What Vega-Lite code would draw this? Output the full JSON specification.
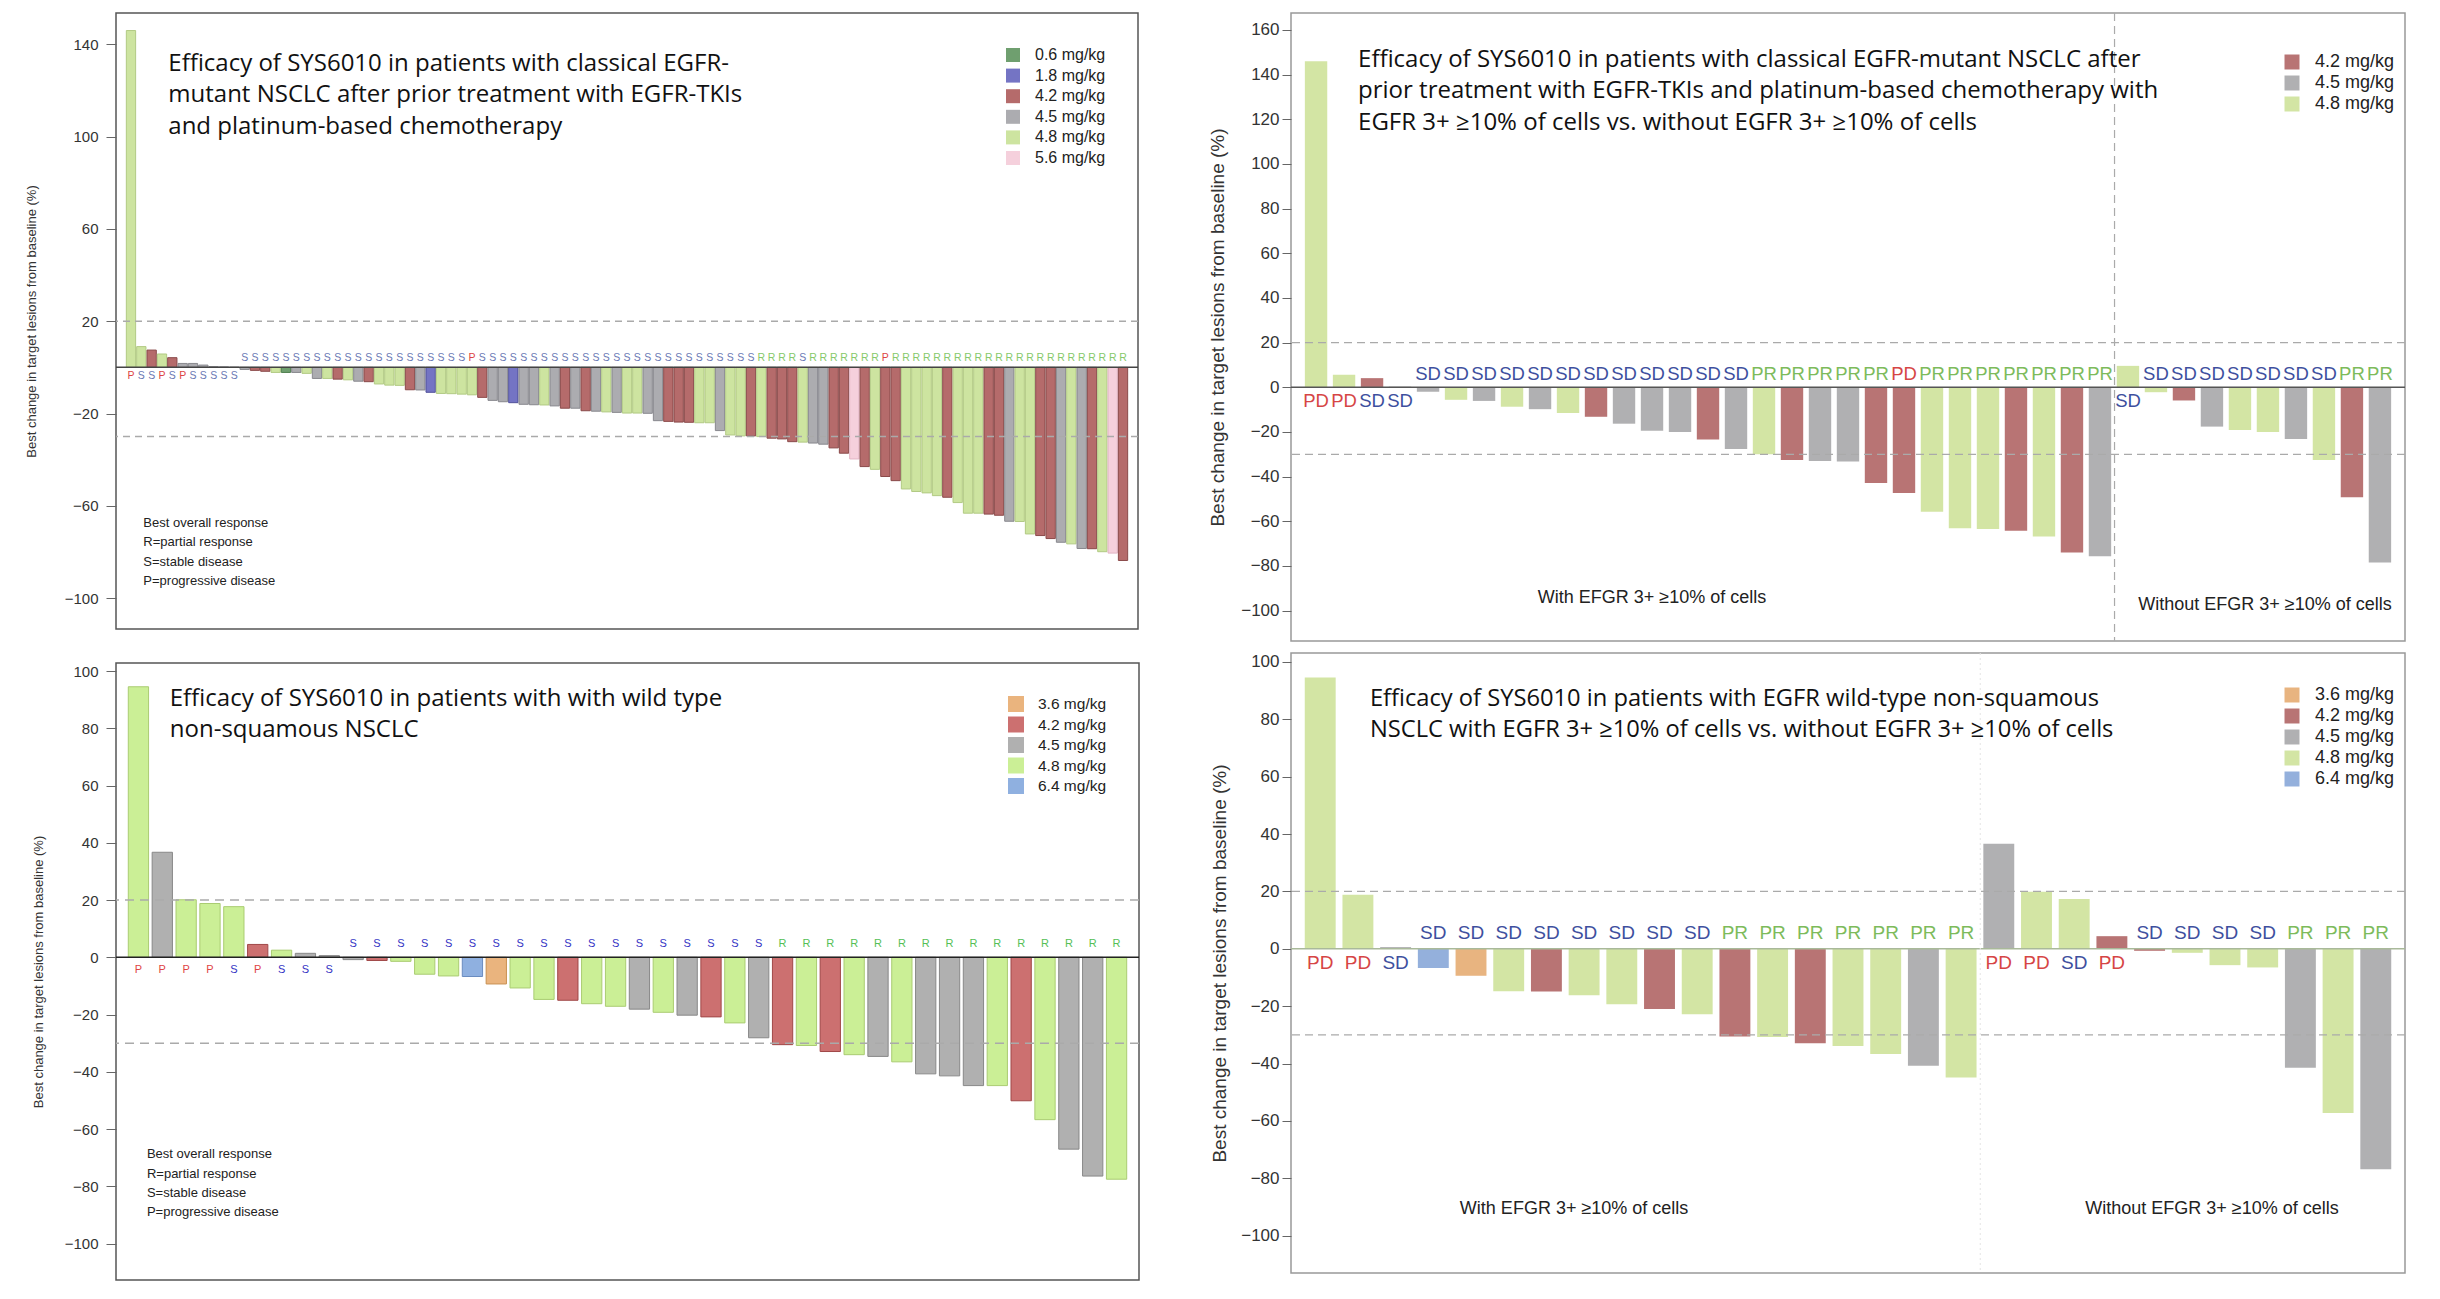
{
  "$schema": "https://vega.github.io/schema/vega-lite/v6.json",
  "background": "white",
  "padding": {"left": 24, "top": 11, "right": 5, "bottom": 5},
  "config": {"font": "Liberation Sans", "view": {"stroke": "#888"}},
  "datasets": {
    "tl": [
      {"i":1,"v":146,"dose":"4.8 mg/kg","resp":"P"},{"i":2,"v":9,"dose":"4.8 mg/kg","resp":"S"},{"i":3,"v":7.5,"dose":"4.2 mg/kg","resp":"S"},{"i":4,"v":5.8,"dose":"4.8 mg/kg","resp":"P"},
      {"i":5,"v":4.2,"dose":"4.2 mg/kg","resp":"S"},{"i":6,"v":1.7,"dose":"4.5 mg/kg","resp":"P"},{"i":7,"v":1.7,"dose":"4.5 mg/kg","resp":"S"},{"i":8,"v":1.0,"dose":"4.5 mg/kg","resp":"S"},
      {"i":9,"v":0.3,"dose":"4.5 mg/kg","resp":"S"},{"i":10,"v":0.2,"dose":"4.5 mg/kg","resp":"S"},{"i":11,"v":0.1,"dose":"4.5 mg/kg","resp":"S"},{"i":12,"v":-0.9,"dose":"4.5 mg/kg","resp":"S"},
      {"i":13,"v":-1.3,"dose":"4.2 mg/kg","resp":"S"},{"i":14,"v":-1.7,"dose":"4.2 mg/kg","resp":"S"},{"i":15,"v":-2.2,"dose":"4.8 mg/kg","resp":"S"},{"i":16,"v":-2.2,"dose":"0.6 mg/kg","resp":"S"},
      {"i":17,"v":-2.2,"dose":"4.5 mg/kg","resp":"S"},{"i":18,"v":-2.6,"dose":"4.8 mg/kg","resp":"S"},{"i":19,"v":-4.8,"dose":"4.5 mg/kg","resp":"S"},{"i":20,"v":-4.8,"dose":"4.8 mg/kg","resp":"S"},
      {"i":21,"v":-5.1,"dose":"4.2 mg/kg","resp":"S"},{"i":22,"v":-5.4,"dose":"4.8 mg/kg","resp":"S"},{"i":23,"v":-6.0,"dose":"4.5 mg/kg","resp":"S"},{"i":24,"v":-6.2,"dose":"4.2 mg/kg","resp":"S"},
      {"i":25,"v":-7.2,"dose":"4.8 mg/kg","resp":"S"},{"i":26,"v":-7.7,"dose":"4.8 mg/kg","resp":"S"},{"i":27,"v":-7.8,"dose":"4.8 mg/kg","resp":"S"},{"i":28,"v":-9.7,"dose":"4.2 mg/kg","resp":"S"},
      {"i":29,"v":-9.8,"dose":"4.5 mg/kg","resp":"S"},{"i":30,"v":-10.8,"dose":"1.8 mg/kg","resp":"S"},{"i":31,"v":-11.3,"dose":"4.8 mg/kg","resp":"S"},{"i":32,"v":-11.4,"dose":"4.8 mg/kg","resp":"S"},
      {"i":33,"v":-11.6,"dose":"4.8 mg/kg","resp":"S"},{"i":34,"v":-11.9,"dose":"4.8 mg/kg","resp":"P"},{"i":35,"v":-13.0,"dose":"4.2 mg/kg","resp":"S"},{"i":36,"v":-14.3,"dose":"4.5 mg/kg","resp":"S"},
      {"i":37,"v":-14.9,"dose":"4.5 mg/kg","resp":"S"},{"i":38,"v":-15.3,"dose":"1.8 mg/kg","resp":"S"},{"i":39,"v":-16.0,"dose":"4.5 mg/kg","resp":"S"},{"i":40,"v":-16.2,"dose":"4.5 mg/kg","resp":"S"},
      {"i":41,"v":-16.3,"dose":"4.8 mg/kg","resp":"S"},{"i":42,"v":-16.7,"dose":"4.5 mg/kg","resp":"S"},{"i":43,"v":-17.7,"dose":"4.2 mg/kg","resp":"S"},{"i":44,"v":-17.7,"dose":"4.5 mg/kg","resp":"S"},
      {"i":45,"v":-18.8,"dose":"4.2 mg/kg","resp":"S"},{"i":46,"v":-19.0,"dose":"4.5 mg/kg","resp":"S"},{"i":47,"v":-19.3,"dose":"4.8 mg/kg","resp":"S"},{"i":48,"v":-19.5,"dose":"4.5 mg/kg","resp":"S"},
      {"i":49,"v":-19.8,"dose":"4.8 mg/kg","resp":"S"},{"i":50,"v":-19.8,"dose":"4.8 mg/kg","resp":"S"},{"i":51,"v":-19.9,"dose":"4.5 mg/kg","resp":"S"},{"i":52,"v":-23.1,"dose":"4.5 mg/kg","resp":"S"},
      {"i":53,"v":-23.4,"dose":"4.2 mg/kg","resp":"S"},{"i":54,"v":-23.7,"dose":"4.2 mg/kg","resp":"S"},{"i":55,"v":-23.8,"dose":"4.2 mg/kg","resp":"S"},{"i":56,"v":-24.0,"dose":"4.8 mg/kg","resp":"S"},
      {"i":57,"v":-24.0,"dose":"4.8 mg/kg","resp":"S"},{"i":58,"v":-27.4,"dose":"4.5 mg/kg","resp":"S"},{"i":59,"v":-29.3,"dose":"4.8 mg/kg","resp":"S"},{"i":60,"v":-29.7,"dose":"4.8 mg/kg","resp":"S"},
      {"i":61,"v":-29.7,"dose":"4.2 mg/kg","resp":"S"},{"i":62,"v":-30.0,"dose":"4.8 mg/kg","resp":"R"},{"i":63,"v":-30.7,"dose":"4.2 mg/kg","resp":"R"},{"i":64,"v":-31.0,"dose":"4.2 mg/kg","resp":"R"},
      {"i":65,"v":-32.2,"dose":"4.2 mg/kg","resp":"R"},{"i":66,"v":-32.4,"dose":"4.8 mg/kg","resp":"S"},{"i":67,"v":-32.8,"dose":"4.5 mg/kg","resp":"R"},{"i":68,"v":-33.3,"dose":"4.5 mg/kg","resp":"R"},
      {"i":69,"v":-34.9,"dose":"4.2 mg/kg","resp":"R"},{"i":70,"v":-37.2,"dose":"4.2 mg/kg","resp":"R"},{"i":71,"v":-39.7,"dose":"5.6 mg/kg","resp":"R"},{"i":72,"v":-43.0,"dose":"4.2 mg/kg","resp":"R"},
      {"i":73,"v":-44.2,"dose":"4.8 mg/kg","resp":"R"},{"i":74,"v":-47.3,"dose":"4.2 mg/kg","resp":"P"},{"i":75,"v":-49.1,"dose":"4.2 mg/kg","resp":"R"},{"i":76,"v":-52.7,"dose":"4.8 mg/kg","resp":"R"},
      {"i":77,"v":-53.8,"dose":"4.8 mg/kg","resp":"R"},{"i":78,"v":-54.4,"dose":"4.8 mg/kg","resp":"R"},{"i":79,"v":-55.6,"dose":"4.8 mg/kg","resp":"R"},{"i":80,"v":-56.3,"dose":"4.2 mg/kg","resp":"R"},
      {"i":81,"v":-58.6,"dose":"4.8 mg/kg","resp":"R"},{"i":82,"v":-63.2,"dose":"4.8 mg/kg","resp":"R"},{"i":83,"v":-63.2,"dose":"4.8 mg/kg","resp":"R"},{"i":84,"v":-63.6,"dose":"4.2 mg/kg","resp":"R"},
      {"i":85,"v":-64.1,"dose":"4.2 mg/kg","resp":"R"},{"i":86,"v":-66.7,"dose":"4.5 mg/kg","resp":"R"},{"i":87,"v":-66.8,"dose":"4.8 mg/kg","resp":"R"},{"i":88,"v":-72.2,"dose":"4.8 mg/kg","resp":"R"},
      {"i":89,"v":-72.9,"dose":"4.2 mg/kg","resp":"R"},{"i":90,"v":-74.2,"dose":"4.2 mg/kg","resp":"R"},{"i":91,"v":-75.8,"dose":"4.5 mg/kg","resp":"R"},{"i":92,"v":-76.5,"dose":"4.8 mg/kg","resp":"R"},
      {"i":93,"v":-78.5,"dose":"4.5 mg/kg","resp":"R"},{"i":94,"v":-78.6,"dose":"4.2 mg/kg","resp":"R"},{"i":95,"v":-79.9,"dose":"4.8 mg/kg","resp":"R"},{"i":96,"v":-80.5,"dose":"5.6 mg/kg","resp":"R"},
      {"i":97,"v":-83.7,"dose":"4.2 mg/kg","resp":"R"}
    ],
    "tr": [
      {"i":1,"v":146,"dose":"4.8 mg/kg","resp":"PD"},{"i":2,"v":5.6,"dose":"4.8 mg/kg","resp":"PD"},{"i":3,"v":4.1,"dose":"4.2 mg/kg","resp":"SD"},{"i":4,"v":0.3,"dose":"4.5 mg/kg","resp":"SD"},
      {"i":5,"v":-2.0,"dose":"4.5 mg/kg","resp":"SD"},{"i":6,"v":-5.6,"dose":"4.8 mg/kg","resp":"SD"},{"i":7,"v":-6.1,"dose":"4.5 mg/kg","resp":"SD"},{"i":8,"v":-8.7,"dose":"4.8 mg/kg","resp":"SD"},
      {"i":9,"v":-9.8,"dose":"4.5 mg/kg","resp":"SD"},{"i":10,"v":-11.5,"dose":"4.8 mg/kg","resp":"SD"},{"i":11,"v":-13.2,"dose":"4.2 mg/kg","resp":"SD"},{"i":12,"v":-16.3,"dose":"4.5 mg/kg","resp":"SD"},
      {"i":13,"v":-19.5,"dose":"4.5 mg/kg","resp":"SD"},{"i":14,"v":-20.0,"dose":"4.5 mg/kg","resp":"SD"},{"i":15,"v":-23.4,"dose":"4.2 mg/kg","resp":"SD"},{"i":16,"v":-27.6,"dose":"4.5 mg/kg","resp":"SD"},
      {"i":17,"v":-30.0,"dose":"4.8 mg/kg","resp":"PR"},{"i":18,"v":-32.5,"dose":"4.2 mg/kg","resp":"PR"},{"i":19,"v":-33.0,"dose":"4.5 mg/kg","resp":"PR"},{"i":20,"v":-33.2,"dose":"4.5 mg/kg","resp":"PR"},
      {"i":21,"v":-42.9,"dose":"4.2 mg/kg","resp":"PR"},{"i":22,"v":-47.3,"dose":"4.2 mg/kg","resp":"PD"},{"i":23,"v":-55.7,"dose":"4.8 mg/kg","resp":"PR"},{"i":24,"v":-63.1,"dose":"4.8 mg/kg","resp":"PR"},
      {"i":25,"v":-63.5,"dose":"4.8 mg/kg","resp":"PR"},{"i":26,"v":-64.2,"dose":"4.2 mg/kg","resp":"PR"},{"i":27,"v":-66.8,"dose":"4.8 mg/kg","resp":"PR"},{"i":28,"v":-74.0,"dose":"4.2 mg/kg","resp":"PR"},
      {"i":29,"v":-75.7,"dose":"4.5 mg/kg","resp":"PR"},{"i":30,"v":9.6,"dose":"4.8 mg/kg","resp":"SD"},{"i":31,"v":-2.2,"dose":"4.8 mg/kg","resp":"SD"},{"i":32,"v":-5.9,"dose":"4.2 mg/kg","resp":"SD"},
      {"i":33,"v":-17.6,"dose":"4.5 mg/kg","resp":"SD"},{"i":34,"v":-19.1,"dose":"4.8 mg/kg","resp":"SD"},{"i":35,"v":-20.0,"dose":"4.8 mg/kg","resp":"SD"},{"i":36,"v":-23.2,"dose":"4.5 mg/kg","resp":"SD"},
      {"i":37,"v":-32.5,"dose":"4.8 mg/kg","resp":"SD"},{"i":38,"v":-49.2,"dose":"4.2 mg/kg","resp":"PR"},{"i":39,"v":-78.5,"dose":"4.5 mg/kg","resp":"PR"}
    ],
    "bl": [
      {"i":1,"v":94.5,"dose":"4.8 mg/kg","resp":"P"},{"i":2,"v":36.7,"dose":"4.5 mg/kg","resp":"P"},{"i":3,"v":20.1,"dose":"4.8 mg/kg","resp":"P"},{"i":4,"v":18.8,"dose":"4.8 mg/kg","resp":"P"},
      {"i":5,"v":17.7,"dose":"4.8 mg/kg","resp":"S"},{"i":6,"v":4.5,"dose":"4.2 mg/kg","resp":"P"},{"i":7,"v":2.5,"dose":"4.8 mg/kg","resp":"S"},{"i":8,"v":1.4,"dose":"4.5 mg/kg","resp":"S"},
      {"i":9,"v":0.6,"dose":"4.5 mg/kg","resp":"S"},{"i":10,"v":-0.8,"dose":"4.5 mg/kg","resp":"S"},{"i":11,"v":-1.1,"dose":"4.2 mg/kg","resp":"S"},{"i":12,"v":-1.4,"dose":"4.8 mg/kg","resp":"S"},
      {"i":13,"v":-5.9,"dose":"4.8 mg/kg","resp":"S"},{"i":14,"v":-6.5,"dose":"4.8 mg/kg","resp":"S"},{"i":15,"v":-6.7,"dose":"6.4 mg/kg","resp":"S"},{"i":16,"v":-9.3,"dose":"3.6 mg/kg","resp":"S"},
      {"i":17,"v":-10.7,"dose":"4.8 mg/kg","resp":"S"},{"i":18,"v":-14.7,"dose":"4.8 mg/kg","resp":"S"},{"i":19,"v":-15.0,"dose":"4.2 mg/kg","resp":"S"},{"i":20,"v":-16.2,"dose":"4.8 mg/kg","resp":"S"},
      {"i":21,"v":-17.1,"dose":"4.8 mg/kg","resp":"S"},{"i":22,"v":-18.1,"dose":"4.5 mg/kg","resp":"S"},{"i":23,"v":-19.2,"dose":"4.8 mg/kg","resp":"S"},{"i":24,"v":-20.2,"dose":"4.5 mg/kg","resp":"S"},
      {"i":25,"v":-20.8,"dose":"4.2 mg/kg","resp":"S"},{"i":26,"v":-22.9,"dose":"4.8 mg/kg","resp":"S"},{"i":27,"v":-28.1,"dose":"4.5 mg/kg","resp":"S"},{"i":28,"v":-30.5,"dose":"4.2 mg/kg","resp":"R"},
      {"i":29,"v":-30.8,"dose":"4.8 mg/kg","resp":"R"},{"i":30,"v":-32.9,"dose":"4.2 mg/kg","resp":"R"},{"i":31,"v":-34.0,"dose":"4.8 mg/kg","resp":"R"},{"i":32,"v":-34.6,"dose":"4.5 mg/kg","resp":"R"},
      {"i":33,"v":-36.5,"dose":"4.8 mg/kg","resp":"R"},{"i":34,"v":-40.7,"dose":"4.5 mg/kg","resp":"R"},{"i":35,"v":-41.4,"dose":"4.5 mg/kg","resp":"R"},{"i":36,"v":-44.8,"dose":"4.5 mg/kg","resp":"R"},
      {"i":37,"v":-44.8,"dose":"4.8 mg/kg","resp":"R"},{"i":38,"v":-50.1,"dose":"4.2 mg/kg","resp":"R"},{"i":39,"v":-56.7,"dose":"4.8 mg/kg","resp":"R"},{"i":40,"v":-67.0,"dose":"4.5 mg/kg","resp":"R"},
      {"i":41,"v":-76.4,"dose":"4.5 mg/kg","resp":"R"},{"i":42,"v":-77.5,"dose":"4.8 mg/kg","resp":"R"}
    ],
    "br": [
      {"i":1,"v":94.6,"dose":"4.8 mg/kg","resp":"PD"},{"i":2,"v":18.8,"dose":"4.8 mg/kg","resp":"PD"},{"i":3,"v":0.6,"dose":"4.5 mg/kg","resp":"SD"},{"i":4,"v":-6.7,"dose":"6.4 mg/kg","resp":"SD"},
      {"i":5,"v":-9.4,"dose":"3.6 mg/kg","resp":"SD"},{"i":6,"v":-14.8,"dose":"4.8 mg/kg","resp":"SD"},{"i":7,"v":-14.9,"dose":"4.2 mg/kg","resp":"SD"},{"i":8,"v":-16.2,"dose":"4.8 mg/kg","resp":"SD"},
      {"i":9,"v":-19.3,"dose":"4.8 mg/kg","resp":"SD"},{"i":10,"v":-21.0,"dose":"4.2 mg/kg","resp":"SD"},{"i":11,"v":-22.8,"dose":"4.8 mg/kg","resp":"SD"},{"i":12,"v":-30.6,"dose":"4.2 mg/kg","resp":"PR"},
      {"i":13,"v":-30.7,"dose":"4.8 mg/kg","resp":"PR"},{"i":14,"v":-32.9,"dose":"4.2 mg/kg","resp":"PR"},{"i":15,"v":-33.9,"dose":"4.8 mg/kg","resp":"PR"},{"i":16,"v":-36.7,"dose":"4.8 mg/kg","resp":"PR"},
      {"i":17,"v":-40.8,"dose":"4.5 mg/kg","resp":"PR"},{"i":18,"v":-44.9,"dose":"4.8 mg/kg","resp":"PR"},{"i":19,"v":36.6,"dose":"4.5 mg/kg","resp":"PD"},{"i":20,"v":19.9,"dose":"4.8 mg/kg","resp":"PD"},
      {"i":21,"v":17.4,"dose":"4.8 mg/kg","resp":"SD"},{"i":22,"v":4.4,"dose":"4.2 mg/kg","resp":"PD"},{"i":23,"v":-0.7,"dose":"4.2 mg/kg","resp":"SD"},{"i":24,"v":-1.4,"dose":"4.8 mg/kg","resp":"SD"},
      {"i":25,"v":-5.7,"dose":"4.8 mg/kg","resp":"SD"},{"i":26,"v":-6.5,"dose":"4.8 mg/kg","resp":"SD"},{"i":27,"v":-41.5,"dose":"4.5 mg/kg","resp":"PR"},{"i":28,"v":-57.2,"dose":"4.8 mg/kg","resp":"PR"},
      {"i":29,"v":-76.8,"dose":"4.5 mg/kg","resp":"PR"}
    ]
  },
  "spacing": 66,
  "resolve": {"scale": {"x": "independent", "y": "independent", "fill": "independent", "stroke": "independent", "color": "independent"}, "legend": {"fill": "independent"}},
  "hconcat": [
    {
      "bounds": "flush",
      "spacing": 34,
      "resolve": {"scale": {"x": "independent", "y": "independent", "fill": "independent", "stroke": "independent", "color": "independent"}, "legend": {"fill": "independent"}},
      "vconcat": [
        {
          "width": 1022, "height": 616,
          "view": {"stroke": "#555", "strokeWidth": 1.5},
          "data": {"name": "tl"},
          "layer": [
            {
              "mark": {"type": "bar", "strokeWidth": 1},
              "encoding": {
                "x": {"field": "i", "type": "ordinal", "axis": null, "scale": {"paddingInner": 0.1, "paddingOuter": 1.115}},
                "y": {"field": "v", "type": "quantitative", "scale": {"domain": [-113.4, 153.6], "nice": false, "zero": false},
                  "axis": {"values": [140, 100, 60, 20, -20, -60, -100], "title": "Best  change in target lesions from baseline (%)", "titleFontSize": 13, "titleFontWeight": "normal", "titleColor": "#333", "titlePadding": 26, "labelFontSize": 15, "labelColor": "#333", "labelPadding": 8, "tickSize": 10, "tickColor": "#666", "domain": false, "grid": false}},
                "y2": {"datum": 0},
                "fill": {"field": "dose", "type": "nominal",
                  "scale": {"domain": ["0.6 mg/kg", "1.8 mg/kg", "4.2 mg/kg", "4.5 mg/kg", "4.8 mg/kg", "5.6 mg/kg"], "range": ["#6f9f6f", "#7474c4", "#b56b6b", "#acacb0", "#cde4a0", "#f5d0dc"]},
                  "legend": {"orient": "none", "legendX": 889, "legendY": 34, "title": null, "symbolType": "square", "symbolSize": 196, "symbolStrokeWidth": 0, "labelFontSize": 16, "labelColor": "#222", "rowPadding": 4.6, "labelOffset": 14, "padding": 0}},
                "stroke": {"field": "dose", "type": "nominal", "legend": null,
                  "scale": {"domain": ["0.6 mg/kg", "1.8 mg/kg", "4.2 mg/kg", "4.5 mg/kg", "4.8 mg/kg", "5.6 mg/kg"], "range": ["#4f7f4f", "#50509a", "#8a4a4a", "#88888e", "#b2ca84", "#e2b4c4"]}}
              }
            },
            {
              "data": {"values": [{"ref": 20}, {"ref": -30}]},
              "mark": {"type": "rule", "color": "#aaaaaa", "strokeDash": [7, 5], "strokeWidth": 1.5},
              "encoding": {"y": {"field": "ref", "type": "quantitative"}}
            },
            {
              "data": {"values": [{}]},
              "mark": {"type": "rule", "color": "#444", "strokeWidth": 1.5},
              "encoding": {"y": {"datum": 0, "type": "quantitative"}}
            },
            {
              "transform": [{"filter": "datum.v < 0"}],
              "mark": {"type": "text", "fontSize": 10.5, "dy": -9, "baseline": "middle"},
              "encoding": {
                "x": {"field": "i", "type": "ordinal", "axis": null},
                "y": {"datum": 0, "type": "quantitative"},
                "text": {"field": "resp"},
                "color": {"field": "resp", "type": "nominal", "legend": null, "scale": {"domain": ["P", "S", "R"], "range": ["#dd4444", "#6a78b4", "#86c96a"]}}
              }
            },
            {
              "transform": [{"filter": "datum.v >= 0"}],
              "mark": {"type": "text", "fontSize": 10.5, "dy": 9, "baseline": "middle"},
              "encoding": {
                "x": {"field": "i", "type": "ordinal", "axis": null},
                "y": {"datum": 0, "type": "quantitative"},
                "text": {"field": "resp"},
                "color": {"field": "resp", "type": "nominal", "legend": null, "scale": {"domain": ["P", "S", "R"], "range": ["#dd4444", "#6a78b4", "#86c96a"]}}
              }
            },
            {
              "data": {"values": [{}]},
              "mark": {"type": "text", "align": "left", "baseline": "middle", "font": "Open Sans", "fontSize": 24, "lineHeight": 31.4, "dx": -4, "color": "#111",
                "text": ["Efficacy of SYS6010 in patients with classical EGFR-", "mutant NSCLC after prior treatment with EGFR-TKIs", "and platinum-based chemotherapy"]},
              "encoding": {"x": {"datum": 5, "type": "ordinal", "axis": null}, "y": {"datum": 131.5, "type": "quantitative"}}
            },
            {
              "data": {"values": [{}]},
              "mark": {"type": "text", "align": "left", "baseline": "middle", "fontSize": 13, "lineHeight": 19.4, "dx": 2, "color": "#222",
                "text": ["Best overall response", "R=partial response", "S=stable disease", "P=progressive disease"]},
              "encoding": {"x": {"datum": 2, "type": "ordinal", "axis": null}, "y": {"datum": -67.4, "type": "quantitative"}}
            }
          ]
        },
        {
          "width": 1023, "height": 617,
          "view": {"stroke": "#555", "strokeWidth": 1.5},
          "data": {"name": "bl"},
          "layer": [
            {
              "mark": {"type": "bar", "strokeWidth": 1},
              "encoding": {
                "x": {"field": "i", "type": "ordinal", "axis": null, "scale": {"paddingInner": 0.15, "paddingOuter": 0.515}},
                "y": {"field": "v", "type": "quantitative", "scale": {"domain": [-112.7, 102.8], "nice": false, "zero": false},
                  "axis": {"values": [100, 80, 60, 40, 20, 0, -20, -40, -60, -80, -100], "title": "Best change in target lesions from baseline (%)", "titleFontSize": 13, "titleFontWeight": "normal", "titleColor": "#333", "titlePadding": 19, "labelFontSize": 15, "labelColor": "#333", "labelPadding": 8, "tickSize": 10, "tickColor": "#666", "domain": false, "grid": false}},
                "y2": {"datum": 0},
                "fill": {"field": "dose", "type": "nominal",
                  "scale": {"domain": ["3.6 mg/kg", "4.2 mg/kg", "4.5 mg/kg", "4.8 mg/kg", "6.4 mg/kg"], "range": ["#eab47e", "#cc7070", "#b0b0b0", "#cbef96", "#8fb0e0"]},
                  "legend": {"orient": "none", "legendX": 892, "legendY": 33, "title": null, "symbolType": "square", "symbolSize": 256, "symbolStrokeWidth": 0, "labelFontSize": 15.5, "labelColor": "#222", "rowPadding": 3.5, "labelOffset": 14, "padding": 0}},
                "stroke": {"field": "dose", "type": "nominal", "legend": null,
                  "scale": {"domain": ["3.6 mg/kg", "4.2 mg/kg", "4.5 mg/kg", "4.8 mg/kg", "6.4 mg/kg"], "range": ["#c89050", "#a04848", "#888888", "#aacc72", "#6a8cc0"]}}
              }
            },
            {
              "data": {"values": [{"ref": 20}, {"ref": -30}]},
              "mark": {"type": "rule", "color": "#aaaaaa", "strokeDash": [9, 6], "strokeWidth": 1.5},
              "encoding": {"y": {"field": "ref", "type": "quantitative"}}
            },
            {
              "data": {"values": [{}]},
              "mark": {"type": "rule", "color": "#222", "strokeWidth": 1.5},
              "encoding": {"y": {"datum": 0, "type": "quantitative"}}
            },
            {
              "transform": [{"filter": "datum.v < 0"}],
              "mark": {"type": "text", "fontSize": 11, "dy": -13, "baseline": "middle"},
              "encoding": {
                "x": {"field": "i", "type": "ordinal", "axis": null},
                "y": {"datum": 0, "type": "quantitative"},
                "text": {"field": "resp"},
                "color": {"field": "resp", "type": "nominal", "legend": null, "scale": {"domain": ["P", "S", "R"], "range": ["#e04444", "#3434c4", "#55c055"]}}
              }
            },
            {
              "transform": [{"filter": "datum.v >= 0"}],
              "mark": {"type": "text", "fontSize": 11, "dy": 13, "baseline": "middle"},
              "encoding": {
                "x": {"field": "i", "type": "ordinal", "axis": null},
                "y": {"datum": 0, "type": "quantitative"},
                "text": {"field": "resp"},
                "color": {"field": "resp", "type": "nominal", "legend": null, "scale": {"domain": ["P", "S", "R"], "range": ["#e04444", "#3434c4", "#55c055"]}}
              }
            },
            {
              "data": {"values": [{}]},
              "mark": {"type": "text", "align": "left", "baseline": "middle", "font": "Open Sans", "fontSize": 24, "lineHeight": 31.6, "dx": 7.5, "color": "#111",
                "text": ["Efficacy of SYS6010 in patients with with wild type", "non-squamous NSCLC"]},
              "encoding": {"x": {"datum": 2, "type": "ordinal", "axis": null}, "y": {"datum": 90.3, "type": "quantitative"}}
            },
            {
              "data": {"values": [{}]},
              "mark": {"type": "text", "align": "left", "baseline": "middle", "fontSize": 13, "lineHeight": 19.4, "dx": 8.5, "color": "#222",
                "text": ["Best overall response", "R=partial response", "S=stable disease", "P=progressive disease"]},
              "encoding": {"x": {"datum": 1, "type": "ordinal", "axis": null}, "y": {"datum": -68.8, "type": "quantitative"}}
            }
          ]
        }
      ]
    },
    {
      "bounds": "flush",
      "spacing": 12,
      "resolve": {"scale": {"x": "independent", "y": "independent", "fill": "independent", "stroke": "independent", "color": "independent"}, "legend": {"fill": "independent"}},
      "vconcat": [
        {
          "width": 1114, "height": 628,
          "view": {"stroke": "#999", "strokeWidth": 1.5},
          "data": {"name": "tr"},
          "layer": [
            {
              "mark": {"type": "bar", "strokeWidth": 0},
              "encoding": {
                "x": {"field": "i", "type": "ordinal", "axis": null, "scale": {"paddingInner": 0.2, "paddingOuter": 0.495}},
                "y": {"field": "v", "type": "quantitative", "scale": {"domain": [-113.6, 167.6], "nice": false, "zero": false},
                  "axis": {"values": [160, 140, 120, 100, 80, 60, 40, 20, 0, -20, -40, -60, -80, -100], "title": "Best change in target lesions from baseline (%)", "titleFontSize": 19, "titleFontWeight": "normal", "titleColor": "#333", "titlePadding": 13, "labelFontSize": 17, "labelColor": "#333", "labelPadding": 3, "tickSize": 9, "tickColor": "#666", "domain": false, "grid": false}},
                "y2": {"datum": 0},
                "fill": {"field": "dose", "type": "nominal",
                  "scale": {"domain": ["4.2 mg/kg", "4.5 mg/kg", "4.8 mg/kg"], "range": ["#b87474", "#b0b0b2", "#d3e5a4"]},
                  "legend": {"orient": "none", "legendX": 992, "legendY": 40, "title": null, "symbolType": "square", "symbolSize": 225, "symbolStrokeWidth": 0, "labelFontSize": 18, "labelColor": "#222", "rowPadding": 3, "labelOffset": 14, "padding": 0}}
              }
            },
            {
              "data": {"values": [{"ref": 20}, {"ref": -30}]},
              "mark": {"type": "rule", "color": "#aaaaaa", "strokeDash": [8, 5], "strokeWidth": 1.2},
              "encoding": {"y": {"field": "ref", "type": "quantitative"}}
            },
            {
              "data": {"values": [{}]},
              "mark": {"type": "rule", "color": "#555", "strokeWidth": 1.5},
              "encoding": {"y": {"datum": 0, "type": "quantitative"}}
            },
            {
              "data": {"values": [{}]},
              "mark": {"type": "rule", "color": "#aaaaaa", "strokeDash": [8, 5], "strokeWidth": 1.2},
              "encoding": {"x": {"datum": 30, "type": "ordinal", "axis": null, "bandPosition": -0.1}}
            },
            {
              "transform": [{"filter": "datum.v < 0"}],
              "mark": {"type": "text", "fontSize": 18.5, "dy": -13.5, "baseline": "middle"},
              "encoding": {
                "x": {"field": "i", "type": "ordinal", "axis": null},
                "y": {"datum": 0, "type": "quantitative"},
                "text": {"field": "resp"},
                "color": {"field": "resp", "type": "nominal", "legend": null, "scale": {"domain": ["PD", "SD", "PR"], "range": ["#d64545", "#3e4f9e", "#7dbb5b"]}}
              }
            },
            {
              "transform": [{"filter": "datum.v >= 0"}],
              "mark": {"type": "text", "fontSize": 18.5, "dy": 14, "baseline": "middle"},
              "encoding": {
                "x": {"field": "i", "type": "ordinal", "axis": null},
                "y": {"datum": 0, "type": "quantitative"},
                "text": {"field": "resp"},
                "color": {"field": "resp", "type": "nominal", "legend": null, "scale": {"domain": ["PD", "SD", "PR"], "range": ["#d64545", "#3e4f9e", "#7dbb5b"]}}
              }
            },
            {
              "data": {"values": [{}]},
              "mark": {"type": "text", "align": "left", "baseline": "middle", "font": "Open Sans", "fontSize": 24, "lineHeight": 31.5, "dx": -14, "color": "#111",
                "text": ["Efficacy of SYS6010 in patients with classical EGFR-mutant NSCLC after", "prior treatment with EGFR-TKIs and platinum-based chemotherapy with", "EGFR 3+ ≥10% of cells vs. without EGFR 3+ ≥10% of cells"]},
              "encoding": {"x": {"datum": 3, "type": "ordinal", "axis": null}, "y": {"datum": 146.7, "type": "quantitative"}}
            },
            {
              "data": {"values": [{}]},
              "mark": {"type": "text", "align": "center", "baseline": "middle", "fontSize": 18, "color": "#222", "text": "With EFGR 3+ ≥10% of cells"},
              "encoding": {"x": {"datum": 13, "type": "ordinal", "axis": null}, "y": {"datum": -94.5, "type": "quantitative"}}
            },
            {
              "data": {"values": [{}]},
              "mark": {"type": "text", "align": "center", "baseline": "middle", "fontSize": 18, "dx": -3, "color": "#222", "text": "Without EFGR 3+ ≥10% of cells"},
              "encoding": {"x": {"datum": 35, "type": "ordinal", "axis": null}, "y": {"datum": -97.7, "type": "quantitative"}}
            }
          ]
        },
        {
          "width": 1114, "height": 620,
          "view": {"stroke": "#999", "strokeWidth": 1.5},
          "data": {"name": "br"},
          "layer": [
            {
              "mark": {"type": "bar", "strokeWidth": 0},
              "encoding": {
                "x": {"field": "i", "type": "ordinal", "axis": null, "scale": {"paddingInner": 0.18, "paddingOuter": 0.365}},
                "y": {"field": "v", "type": "quantitative", "scale": {"domain": [-113.0, 103.1], "nice": false, "zero": false},
                  "axis": {"values": [100, 80, 60, 40, 20, 0, -20, -40, -60, -80, -100], "title": "Best change in target lesions from baseline (%)", "titleFontSize": 19, "titleFontWeight": "normal", "titleColor": "#333", "titlePadding": 11, "labelFontSize": 17, "labelColor": "#333", "labelPadding": 3, "tickSize": 9, "tickColor": "#666", "domain": false, "grid": false}},
                "y2": {"datum": 0},
                "fill": {"field": "dose", "type": "nominal",
                  "scale": {"domain": ["3.6 mg/kg", "4.2 mg/kg", "4.5 mg/kg", "4.8 mg/kg", "6.4 mg/kg"], "range": ["#e8b480", "#b87474", "#b0b0b2", "#d3e5a4", "#94b0dc"]},
                  "legend": {"orient": "none", "legendX": 992, "legendY": 33, "title": null, "symbolType": "square", "symbolSize": 225, "symbolStrokeWidth": 0, "labelFontSize": 18, "labelColor": "#222", "rowPadding": 3, "labelOffset": 14, "padding": 0}}
              }
            },
            {
              "data": {"values": [{"ref": 20}, {"ref": -30}]},
              "mark": {"type": "rule", "color": "#aaaaaa", "strokeDash": [8, 5], "strokeWidth": 1.2},
              "encoding": {"y": {"field": "ref", "type": "quantitative"}}
            },
            {
              "data": {"values": [{}]},
              "mark": {"type": "rule", "color": "#a9b99a", "strokeWidth": 1.5},
              "encoding": {"y": {"datum": 0, "type": "quantitative"}}
            },
            {
              "data": {"values": [{}]},
              "mark": {"type": "rule", "color": "#e4e4e4", "strokeDash": [2, 3], "strokeWidth": 1},
              "encoding": {"x": {"datum": 19, "type": "ordinal", "axis": null, "bandPosition": -0.1}}
            },
            {
              "transform": [{"filter": "datum.v < 0"}],
              "mark": {"type": "text", "fontSize": 19, "dy": -15.5, "baseline": "middle"},
              "encoding": {
                "x": {"field": "i", "type": "ordinal", "axis": null},
                "y": {"datum": 0, "type": "quantitative"},
                "text": {"field": "resp"},
                "color": {"field": "resp", "type": "nominal", "legend": null, "scale": {"domain": ["PD", "SD", "PR"], "range": ["#d64545", "#3e4f9e", "#7dbb5b"]}}
              }
            },
            {
              "transform": [{"filter": "datum.v >= 0"}],
              "mark": {"type": "text", "fontSize": 19, "dy": 14.5, "baseline": "middle"},
              "encoding": {
                "x": {"field": "i", "type": "ordinal", "axis": null},
                "y": {"datum": 0, "type": "quantitative"},
                "text": {"field": "resp"},
                "color": {"field": "resp", "type": "nominal", "legend": null, "scale": {"domain": ["PD", "SD", "PR"], "range": ["#d64545", "#3e4f9e", "#7dbb5b"]}}
              }
            },
            {
              "data": {"values": [{}]},
              "mark": {"type": "text", "align": "left", "baseline": "middle", "font": "Open Sans", "fontSize": 23.7, "lineHeight": 31.6, "dx": 12, "color": "#111",
                "text": ["Efficacy of SYS6010 in patients with EGFR wild-type non-squamous", "NSCLC with EGFR 3+ ≥10% of cells vs. without EGFR 3+ ≥10% of cells"]},
              "encoding": {"x": {"datum": 2, "type": "ordinal", "axis": null}, "y": {"datum": 87.1, "type": "quantitative"}}
            },
            {
              "data": {"values": [{}]},
              "mark": {"type": "text", "align": "center", "baseline": "middle", "fontSize": 18, "dx": -10, "color": "#222", "text": "With EFGR 3+ ≥10% of cells"},
              "encoding": {"x": {"datum": 8, "type": "ordinal", "axis": null}, "y": {"datum": -90.6, "type": "quantitative"}}
            },
            {
              "data": {"values": [{}]},
              "mark": {"type": "text", "align": "center", "baseline": "middle", "fontSize": 18, "dx": -13, "color": "#222", "text": "Without EFGR 3+ ≥10% of cells"},
              "encoding": {"x": {"datum": 25, "type": "ordinal", "axis": null}, "y": {"datum": -90.6, "type": "quantitative"}}
            }
          ]
        }
      ]
    }
  ]
}
